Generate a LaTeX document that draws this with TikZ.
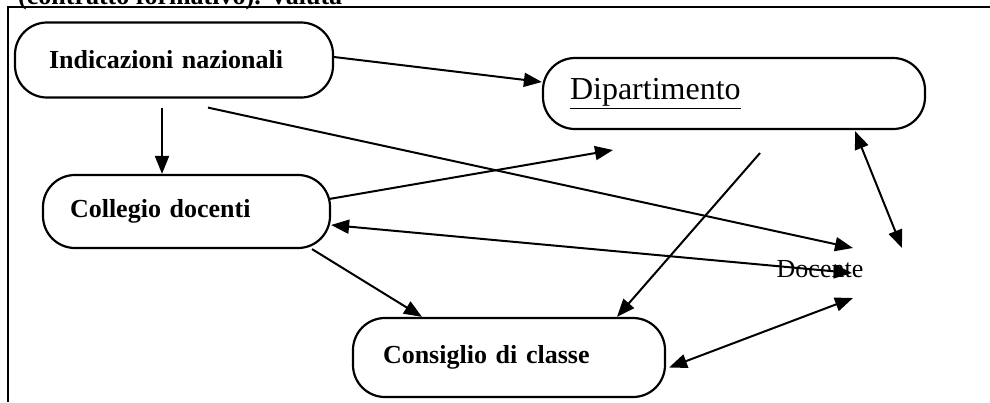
\documentclass[tikz,border=0pt]{standalone}
\usepackage{fontspec}
\setmainfont{Liberation Serif}
\usetikzlibrary{arrows.meta,calc}
\tikzset{
  box/.style={draw, line width=2.2pt, rounded corners=32pt, align=left, inner ysep=0pt,
    font=\fontsize{26}{30}\selectfont\bfseries},
  tip/.tip={Triangle[length=18pt,width=14pt]},
  arr/.style={line width=2pt, -tip},
  darr/.style={line width=2pt, tip-tip},
  frame/.style={line width=1.6pt},
}
\begin{document}
\begin{tikzpicture}[x=1pt,y=-1pt]
\useasboundingbox (0,0) rectangle (990,402);
\clip (0,0) rectangle (990,402);
% frame and clipped heading
\draw[frame] (8,402) -- (8,7) -- (990,7);
\node[anchor=base west, inner sep=0pt, font=\fontsize{26}{30}\selectfont\bfseries] (head) at (18,4) {(contratto formativo). Valuta};
% boxes
\node[box, minimum width=318pt, minimum height=75pt, text width=250pt, inner xsep=34pt] (ind) at (174,60) {Indicazioni nazionali};
\node[box, minimum width=382pt, minimum height=71pt, text width=328pt, inner xsep=27pt,
  font=\fontsize{32}{36}\selectfont] (dip) at (734,93.5) {\underline{Dipartimento}};
\node[box, minimum width=287pt, minimum height=73pt, text width=233pt, inner xsep=27pt] (col) at (186.5,211.5) {Collegio docenti};
\node[box, minimum width=312pt, minimum height=79pt, text width=252pt, inner xsep=30pt] (con) at (509,357.5) {Consiglio di classe};
\node[anchor=base, inner sep=0pt, font=\fontsize{26}{30}\selectfont] (doc) at (820,277) {Docente};
% free ends
\coordinate (dipin) at (613,150);
\coordinate (dipout) at (760,153);
% connectors
\draw[arr] ($(ind.east)+(0,-3)$) -- ($(dip.west)+(0,-11.5)$);
\draw[arr] ($(ind.south)+(-12,9)$) -- ($(col.north)+(-24.5,0)$);
\draw[arr] ($(ind.south)+(34,9)$) -- ($(doc.base)+(33,-29)$);
\draw[arr] ($(col.east)+(-2,-12.5)$) -- (dipin);
\draw[darr] ($(col.east)+(0,13.5)$) -- ($(doc.base)+(32,-4)$);
\draw[arr] ($(col.south)+(125.5,0)$) -- ($(con.north)+(-87,0)$);
\draw[arr] (dipout) -- ($(con.north)+(108,0)$);
\draw[darr] ($(dip.south)+(121,1)$) -- ($(doc.base)+(82,-29)$);
\draw[darr] ($(con.east)+(3,10)$) -- ($(doc.base)+(33,21)$);
\end{tikzpicture}
\end{document}
